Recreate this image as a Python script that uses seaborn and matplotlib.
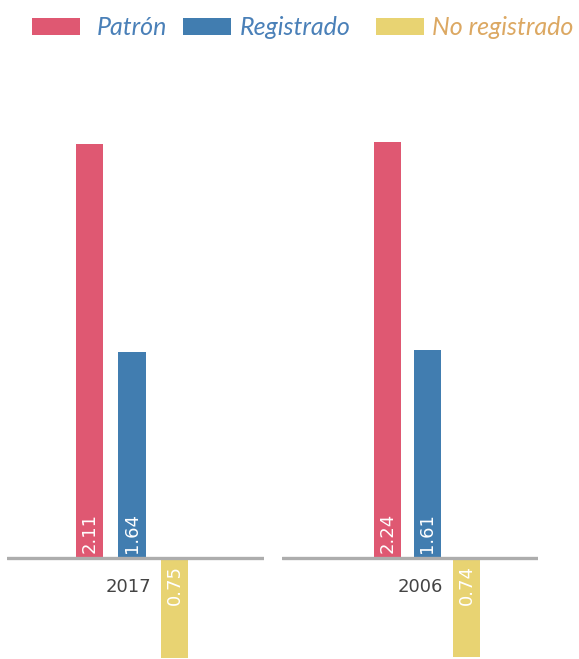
import matplotlib
matplotlib.use("Agg")
import matplotlib.pyplot as plt
import seaborn as sns
import pandas as pd
from matplotlib.patches import Rectangle

# ---- data ----
categorias = ["Patrón", "Registrado", "No registrado"]
anios = ["2017", "2006"]
# bar lengths as drawn in the picture (arbitrary units)
largo_2017 = [4.14, 2.06, -1.00]
largo_2006 = [4.16, 2.08, -0.99]
# value labels printed on bars
etiquetas_2017 = ["2.11", "1.64", "0.75"]
etiquetas_2006 = ["2.24", "1.61", "0.74"]

colores = ["#df5872", "#417db0", "#e8d372"]
colores_texto_leyenda = ["#4a80b8", "#4a80b8", "#dca862"]

sns.set_theme(style="white")
plt.rcParams["font.family"] = ["DejaVu Sans"]

W, H = 579, 659
fig = plt.figure(figsize=(W / 100, H / 100), dpi=100)

paneles = [
    (anios[0], largo_2017, etiquetas_2017, (7, 264), (89.5, 174.5)),
    (anios[1], largo_2006, etiquetas_2006, (282, 538), (387.5, 466.5)),
]

for anio, largos, etiquetas, (x0, x1), (c0, c2) in paneles:
    ax = fig.add_axes([x0 / W, 1 / H, (x1 - x0) / W, 550 / H])
    df = pd.DataFrame({"categoria": categorias, "valor": largos})
    paso = (c2 - c0) / 2.0
    ancho = 27 / paso
    sns.barplot(data=df, x="categoria", y="valor", hue="categoria",
                palette=colores, order=categorias, hue_order=categorias,
                width=ancho, dodge=False, legend=False, ax=ax,
                saturation=1, linewidth=0)
    ax.set_xlim((x0 - c0) / paso, (x1 - c0) / paso)
    ax.set_ylim(-1.0, 4.5)
    ax.axhline(0, color="#adadad", lw=2.4, zorder=5)
    for i, (v, t) in enumerate(zip(largos, etiquetas)):
        if v >= 0:
            ax.text(i, 0.05, t, rotation=90, ha="center", va="bottom",
                    color="white", fontsize=13, zorder=6)
        else:
            ax.text(i, -0.07, t, rotation=90, ha="center", va="top",
                    color="white", fontsize=13, zorder=6)
    ax.annotate(anio, xy=(2 - ancho / 2, -0.29), xytext=(-10, 0),
                textcoords="offset pixels", ha="right", va="center",
                color="#444444", fontsize=13)
    ax.set_axis_off()

# legend (manual layout to match spacing)
leyenda = [(32, 97), (183, 240), (376, 432)]
for (px, tx), nombre, c, ct in zip(leyenda, categorias, colores, colores_texto_leyenda):
    fig.add_artist(Rectangle((px / W, 1 - 35 / H), 48 / W, 17 / H,
                             transform=fig.transFigure, facecolor=c,
                             edgecolor="none"))
    fig.text(tx / W, 1 - 35 / H, nombre, ha="left", va="baseline",
             color=ct, fontsize=18, style="italic",
             family=["Lato", "DejaVu Sans"])

fig.savefig("out.png", dpi=100)
